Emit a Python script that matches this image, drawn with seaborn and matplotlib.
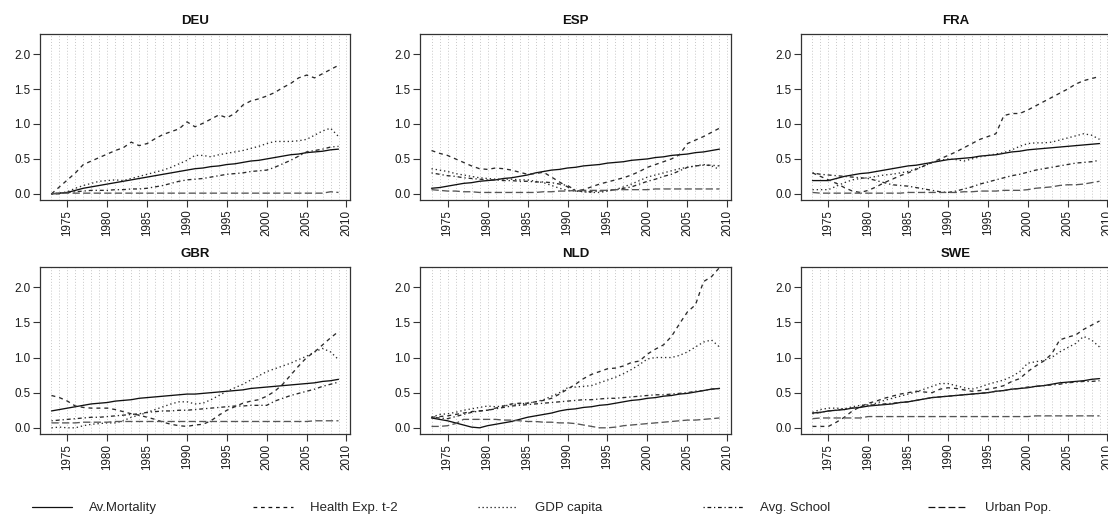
import matplotlib
matplotlib.use('Agg')
import matplotlib.pyplot as plt
import pandas as pd
import seaborn as sns
from matplotlib.lines import Line2D

YEARS = list(range(1973, 2010))
COUNTRIES = ['DEU', 'ESP', 'FRA', 'GBR', 'NLD', 'SWE']
SERIES = ['Av.Mortality', 'Health Exp. t-2', 'GDP capita', 'Avg. School', 'Urban Pop.']

# values, one per year 1973..2009
DEU_MORT = [0.00, 0.01, 0.02, 0.05, 0.08, 0.10, 0.12, 0.14, 0.16, 0.18,
            0.20, 0.22, 0.24, 0.26, 0.28, 0.30, 0.32, 0.34, 0.36, 0.37,
            0.39, 0.40, 0.42, 0.43, 0.45, 0.47, 0.48, 0.50, 0.52, 0.54,
            0.56, 0.57, 0.59, 0.60, 0.61, 0.63, 0.64]
DEU_HEALTH = [0.00, 0.10, 0.20, 0.30, 0.42, 0.47, 0.52, 0.57, 0.62, 0.66,
              0.74, 0.69, 0.72, 0.79, 0.85, 0.89, 0.93, 1.03, 0.96, 1.01,
              1.07, 1.13, 1.09, 1.15, 1.27, 1.33, 1.36, 1.40, 1.45, 1.52,
              1.58, 1.66, 1.70, 1.66, 1.72, 1.78, 1.84]
DEU_GDP = [0.00, 0.01, 0.03, 0.08, 0.12, 0.15, 0.18, 0.19, 0.20, 0.19,
           0.22, 0.25, 0.28, 0.31, 0.34, 0.38, 0.43, 0.48, 0.55, 0.55,
           0.53, 0.56, 0.58, 0.60, 0.62, 0.65, 0.68, 0.72, 0.75, 0.75,
           0.75, 0.76, 0.78, 0.84, 0.90, 0.94, 0.82]
DEU_SCHOOL = [0.00, 0.00, 0.02, 0.03, 0.04, 0.05, 0.05, 0.05, 0.06, 0.06,
              0.07, 0.07, 0.08, 0.10, 0.12, 0.15, 0.18, 0.20, 0.21, 0.22,
              0.24, 0.26, 0.28, 0.29, 0.30, 0.32, 0.33, 0.34, 0.38, 0.43,
              0.48, 0.54, 0.60, 0.62, 0.64, 0.67, 0.68]
DEU_URBAN = [0.00, 0.01, 0.01, 0.01, 0.01, 0.01, 0.01, 0.01, 0.01, 0.01,
             0.01, 0.01, 0.01, 0.01, 0.01, 0.01, 0.01, 0.01, 0.01, 0.01,
             0.01, 0.01, 0.01, 0.01, 0.01, 0.01, 0.01, 0.01, 0.01, 0.01,
             0.01, 0.01, 0.01, 0.01, 0.01, 0.03, 0.02]

ESP_MORT = [0.08, 0.09, 0.11, 0.13, 0.15, 0.16, 0.18, 0.19, 0.20, 0.22,
            0.23, 0.25, 0.27, 0.30, 0.32, 0.34, 0.35, 0.37, 0.38, 0.40,
            0.41, 0.42, 0.44, 0.45, 0.46, 0.48, 0.49, 0.50, 0.52, 0.53,
            0.55, 0.56, 0.57, 0.59, 0.60, 0.62, 0.64]
ESP_HEALTH = [0.62, 0.58, 0.55, 0.50, 0.45, 0.40, 0.36, 0.35, 0.37, 0.36,
              0.34, 0.31, 0.28, 0.29, 0.31, 0.24, 0.17, 0.10, 0.04, 0.06,
              0.10, 0.14, 0.17, 0.20, 0.23, 0.27, 0.32, 0.38, 0.42, 0.46,
              0.50, 0.56, 0.72, 0.77, 0.82, 0.88, 0.94]
ESP_GDP = [0.36, 0.34, 0.32, 0.29, 0.27, 0.25, 0.23, 0.22, 0.21, 0.21,
           0.21, 0.20, 0.20, 0.18, 0.16, 0.12, 0.08, 0.05, 0.04, 0.03,
           0.02, 0.02, 0.04, 0.06, 0.10, 0.14, 0.19, 0.24, 0.27, 0.30,
           0.33, 0.36, 0.38, 0.40, 0.42, 0.40, 0.35]
ESP_SCHOOL = [0.30, 0.28, 0.26, 0.25, 0.23, 0.22, 0.21, 0.20, 0.20, 0.19,
              0.19, 0.18, 0.18, 0.17, 0.17, 0.16, 0.14, 0.12, 0.05, 0.03,
              0.03, 0.04, 0.05, 0.06, 0.08, 0.10, 0.14, 0.18, 0.21, 0.25,
              0.28, 0.33, 0.38, 0.40, 0.41, 0.41, 0.40]
ESP_URBAN = [0.06, 0.05, 0.04, 0.04, 0.03, 0.03, 0.02, 0.02, 0.02, 0.02,
             0.02, 0.02, 0.02, 0.02, 0.03, 0.03, 0.04, 0.04, 0.05, 0.05,
             0.05, 0.05, 0.05, 0.06, 0.06, 0.06, 0.06, 0.06, 0.07, 0.07,
             0.07, 0.07, 0.07, 0.07, 0.07, 0.07, 0.07]

FRA_MORT = [0.19, 0.19, 0.19, 0.22, 0.25, 0.27, 0.29, 0.30, 0.32, 0.34,
            0.36, 0.38, 0.40, 0.41, 0.43, 0.45, 0.47, 0.49, 0.50, 0.51,
            0.52, 0.54, 0.55, 0.56, 0.58, 0.60, 0.61, 0.63, 0.64, 0.65,
            0.66, 0.67, 0.68, 0.69, 0.70, 0.71, 0.72]
FRA_HEALTH = [0.30, 0.25, 0.20, 0.15, 0.09, 0.04, 0.02, 0.05, 0.10, 0.16,
              0.21, 0.26, 0.30, 0.35, 0.40, 0.45, 0.50, 0.55, 0.60, 0.66,
              0.72, 0.78, 0.82, 0.86, 1.12, 1.15, 1.15, 1.20, 1.26, 1.32,
              1.38, 1.44, 1.50, 1.57, 1.62, 1.65, 1.68]
FRA_GDP = [0.06, 0.06, 0.06, 0.11, 0.16, 0.20, 0.22, 0.23, 0.25, 0.27,
           0.28, 0.30, 0.32, 0.36, 0.40, 0.45, 0.48, 0.50, 0.49, 0.47,
           0.50, 0.53, 0.55, 0.57, 0.59, 0.63, 0.68, 0.72, 0.73, 0.73,
           0.74, 0.77, 0.80, 0.83, 0.86, 0.84, 0.78]
FRA_SCHOOL = [0.30, 0.28, 0.27, 0.26, 0.25, 0.24, 0.23, 0.22, 0.19, 0.16,
              0.13, 0.12, 0.11, 0.09, 0.07, 0.05, 0.03, 0.02, 0.04, 0.07,
              0.10, 0.14, 0.17, 0.20, 0.23, 0.26, 0.28, 0.31, 0.34, 0.36,
              0.38, 0.40, 0.42, 0.44, 0.45, 0.46, 0.48]
FRA_URBAN = [0.02, 0.01, 0.01, 0.01, 0.01, 0.01, 0.01, 0.01, 0.01, 0.01,
             0.01, 0.01, 0.02, 0.02, 0.02, 0.02, 0.02, 0.02, 0.02, 0.03,
             0.03, 0.04, 0.04, 0.04, 0.05, 0.05, 0.05, 0.06, 0.08, 0.09,
             0.10, 0.12, 0.13, 0.13, 0.14, 0.16, 0.18]

GBR_MORT = [0.24, 0.26, 0.28, 0.30, 0.32, 0.34, 0.35, 0.36, 0.38, 0.39,
            0.40, 0.42, 0.43, 0.44, 0.45, 0.46, 0.47, 0.48, 0.48, 0.49,
            0.50, 0.51, 0.52, 0.53, 0.54, 0.56, 0.57, 0.58, 0.59, 0.60,
            0.61, 0.62, 0.63, 0.64, 0.66, 0.67, 0.69]
GBR_HEALTH = [0.46, 0.43, 0.38, 0.31, 0.29, 0.28, 0.28, 0.28, 0.26, 0.23,
              0.20, 0.18, 0.15, 0.12, 0.08, 0.05, 0.03, 0.02, 0.04, 0.05,
              0.10, 0.18, 0.25, 0.30, 0.35, 0.38, 0.40, 0.45, 0.52, 0.62,
              0.75, 0.88, 1.00, 1.08, 1.18, 1.28, 1.37]
GBR_GDP = [0.00, 0.01, 0.00, 0.00, 0.03, 0.05, 0.06, 0.07, 0.07, 0.10,
           0.15, 0.18, 0.22, 0.26, 0.30, 0.34, 0.37, 0.37, 0.34, 0.35,
           0.40, 0.46, 0.52, 0.57, 0.62, 0.68, 0.74, 0.80, 0.84, 0.88,
           0.92, 0.97, 1.02, 1.08, 1.13, 1.08, 0.97]
GBR_SCHOOL = [0.10, 0.11, 0.12, 0.13, 0.14, 0.15, 0.15, 0.16, 0.17, 0.18,
              0.19, 0.20, 0.22, 0.23, 0.24, 0.24, 0.25, 0.25, 0.26, 0.27,
              0.28, 0.29, 0.30, 0.31, 0.31, 0.32, 0.32, 0.32, 0.38, 0.42,
              0.46, 0.49, 0.52, 0.55, 0.59, 0.62, 0.65]
GBR_URBAN = [0.07, 0.07, 0.07, 0.07, 0.08, 0.08, 0.08, 0.08, 0.09, 0.09,
             0.09, 0.09, 0.09, 0.09, 0.09, 0.09, 0.09, 0.09, 0.09, 0.09,
             0.09, 0.09, 0.09, 0.09, 0.09, 0.09, 0.09, 0.09, 0.09, 0.09,
             0.09, 0.09, 0.09, 0.10, 0.10, 0.10, 0.10]

NLD_MORT = [0.14, 0.12, 0.10, 0.07, 0.04, 0.01, 0.00, 0.03, 0.05, 0.07,
            0.09, 0.12, 0.15, 0.17, 0.19, 0.21, 0.24, 0.26, 0.27, 0.29,
            0.30, 0.32, 0.33, 0.35, 0.37, 0.39, 0.40, 0.42, 0.43, 0.45,
            0.46, 0.48, 0.49, 0.51, 0.53, 0.55, 0.56]
NLD_HEALTH = [0.15, 0.16, 0.17, 0.19, 0.21, 0.23, 0.24, 0.25, 0.28, 0.31,
              0.34, 0.35, 0.35, 0.37, 0.39, 0.42, 0.48, 0.55, 0.62, 0.70,
              0.76, 0.80, 0.84, 0.85, 0.88, 0.93, 0.95, 1.05, 1.12, 1.18,
              1.30, 1.48, 1.65, 1.75, 2.08, 2.15, 2.28]
NLD_GDP = [0.15, 0.19, 0.20, 0.22, 0.25, 0.27, 0.29, 0.31, 0.30, 0.31,
           0.33, 0.34, 0.35, 0.37, 0.40, 0.45, 0.50, 0.57, 0.58, 0.59,
           0.60, 0.64, 0.68, 0.72, 0.77, 0.83, 0.90, 0.98, 1.00, 1.00,
           1.00, 1.03, 1.08, 1.15, 1.22, 1.25, 1.15]
NLD_SCHOOL = [0.15, 0.14, 0.13, 0.16, 0.19, 0.22, 0.24, 0.25, 0.27, 0.29,
              0.31, 0.32, 0.33, 0.34, 0.35, 0.36, 0.37, 0.38, 0.39, 0.40,
              0.40, 0.41, 0.42, 0.42, 0.43, 0.44, 0.45, 0.46, 0.47, 0.47,
              0.48, 0.49, 0.50, 0.52, 0.53, 0.55, 0.56]
NLD_URBAN = [0.02, 0.02, 0.03, 0.06, 0.12, 0.12, 0.12, 0.12, 0.12, 0.11,
             0.11, 0.10, 0.09, 0.09, 0.08, 0.08, 0.07, 0.07, 0.06, 0.04,
             0.02, 0.00, 0.00, 0.01, 0.03, 0.04, 0.05, 0.06, 0.07, 0.08,
             0.09, 0.10, 0.11, 0.11, 0.12, 0.13, 0.14]

SWE_MORT = [0.21, 0.22, 0.24, 0.25, 0.26, 0.28, 0.29, 0.31, 0.32, 0.33,
            0.34, 0.36, 0.37, 0.39, 0.41, 0.43, 0.44, 0.45, 0.46, 0.47,
            0.48, 0.49, 0.50, 0.52, 0.53, 0.55, 0.56, 0.57, 0.59, 0.60,
            0.62, 0.64, 0.65, 0.66, 0.67, 0.69, 0.70]
SWE_HEALTH = [0.02, 0.02, 0.02, 0.08, 0.15, 0.24, 0.30, 0.35, 0.38, 0.42,
              0.45, 0.48, 0.50, 0.52, 0.51, 0.50, 0.55, 0.57, 0.56, 0.54,
              0.52, 0.53, 0.55, 0.57, 0.60, 0.66, 0.70, 0.80, 0.88, 0.95,
              1.05, 1.25, 1.29, 1.32, 1.40, 1.46, 1.52]
SWE_GDP = [0.22, 0.26, 0.28, 0.28, 0.27, 0.30, 0.32, 0.33, 0.35, 0.39,
           0.42, 0.45, 0.48, 0.51, 0.55, 0.59, 0.63, 0.63, 0.60, 0.57,
           0.55, 0.58, 0.62, 0.65, 0.68, 0.73, 0.80, 0.92, 0.94, 0.96,
           1.00, 1.08, 1.14, 1.20, 1.30, 1.25, 1.15]
SWE_SCHOOL = [0.20, 0.22, 0.24, 0.25, 0.27, 0.28, 0.30, 0.32, 0.33, 0.34,
              0.35, 0.36, 0.37, 0.39, 0.41, 0.43, 0.44, 0.45, 0.46, 0.47,
              0.48, 0.49, 0.50, 0.52, 0.53, 0.55, 0.56, 0.58, 0.59, 0.60,
              0.61, 0.62, 0.64, 0.65, 0.66, 0.66, 0.67]
SWE_URBAN = [0.13, 0.14, 0.14, 0.14, 0.14, 0.14, 0.14, 0.16, 0.16, 0.16,
             0.16, 0.16, 0.16, 0.16, 0.16, 0.16, 0.16, 0.16, 0.16, 0.16,
             0.16, 0.16, 0.16, 0.16, 0.16, 0.16, 0.16, 0.16, 0.17, 0.17,
             0.17, 0.17, 0.17, 0.17, 0.17, 0.17, 0.17]

DATA = {
    'DEU': [DEU_MORT, DEU_HEALTH, DEU_GDP, DEU_SCHOOL, DEU_URBAN],
    'ESP': [ESP_MORT, ESP_HEALTH, ESP_GDP, ESP_SCHOOL, ESP_URBAN],
    'FRA': [FRA_MORT, FRA_HEALTH, FRA_GDP, FRA_SCHOOL, FRA_URBAN],
    'GBR': [GBR_MORT, GBR_HEALTH, GBR_GDP, GBR_SCHOOL, GBR_URBAN],
    'NLD': [NLD_MORT, NLD_HEALTH, NLD_GDP, NLD_SCHOOL, NLD_URBAN],
    'SWE': [SWE_MORT, SWE_HEALTH, SWE_GDP, SWE_SCHOOL, SWE_URBAN],
}

rows = []
for c in COUNTRIES:
    for s, vals in zip(SERIES, DATA[c]):
        for y, v in zip(YEARS, vals):
            rows.append((c, s, y, v))
df = pd.DataFrame(rows, columns=['country', 'series', 'year', 'value'])

sns.set_style('white')
plt.rcParams['font.family'] = ['Liberation Sans', 'DejaVu Sans']

DASHES = {'Av.Mortality': '', 'Health Exp. t-2': (3, 3), 'GDP capita': (1, 2.2),
          'Avg. School': (1, 2.2, 3, 2.2), 'Urban Pop.': (5.5, 2.5)}
COLORS = {'Av.Mortality': '#111111', 'Health Exp. t-2': '#2a2a2a', 'GDP capita': '#2a2a2a',
          'Avg. School': '#2a2a2a', 'Urban Pop.': '#555555'}

W, H = 1108, 516
fig = plt.figure(figsize=(W / 100, H / 100), dpi=100)

cols_px = [(40, 350), (420, 731), (801, 1111)]
rows_px = [(34, 200), (267, 434)]

for i, c in enumerate(COUNTRIES):
    l, r = cols_px[i % 3]
    t, b = rows_px[i // 3]
    ax = fig.add_axes([l / W, 1 - b / H, (r - l) / W, (b - t) / H])
    sub = df[df.country == c]
    sns.lineplot(data=sub, x='year', y='value', hue='series', style='series',
                 hue_order=SERIES, style_order=SERIES, palette=COLORS, dashes=DASHES,
                 linewidth=0.95, legend=False, estimator=None, ax=ax)
    ax.set_xlim(1971.56, 2010.44)
    ax.set_ylim(-0.088, 2.288)
    ax.set_xticks(range(1975, 2011, 5))
    ax.set_xticks(YEARS, minor=True)
    ax.set_xticklabels([str(x) for x in range(1975, 2011, 5)], rotation=90)
    ax.set_yticks([0, 0.5, 1.0, 1.5, 2.0])
    ax.set_yticklabels(['0.0', '0.5', '1.0', '1.5', '2.0'])
    ax.grid(which='both', axis='x', color='#c8c8c8', linestyle=(0, (1, 2)), linewidth=0.7)
    ax.tick_params(which='major', direction='out', length=5, width=0.8, color='#333333',
                   labelsize=8.4, labelcolor='#1a1a1a', pad=2, bottom=True, left=True)
    ax.tick_params(which='minor', length=0)
    for sp in ax.spines.values():
        sp.set_color('#333333')
        sp.set_linewidth(0.9)
    ax.set_xlabel('')
    ax.set_ylabel('')
    ax.set_title(c, fontsize=9.5, fontweight='bold', pad=7, color='#111111')

# legend along the bottom, one entry per block
leg_x = [32, 253, 478, 703, 928]
for s, x in zip(SERIES, leg_x):
    h = Line2D([], [], color='#111111', linewidth=0.9,
               linestyle='-' if DASHES[s] == '' else (0, DASHES[s]))
    fig.legend(handles=[h], labels=[s], loc='center left', bbox_to_anchor=(x / W, 1 - 508 / H),
               frameon=False, fontsize=9.5, handlelength=3.0, handletextpad=1.3,
               borderpad=0, borderaxespad=0)

fig.savefig('out.png', dpi=100)
